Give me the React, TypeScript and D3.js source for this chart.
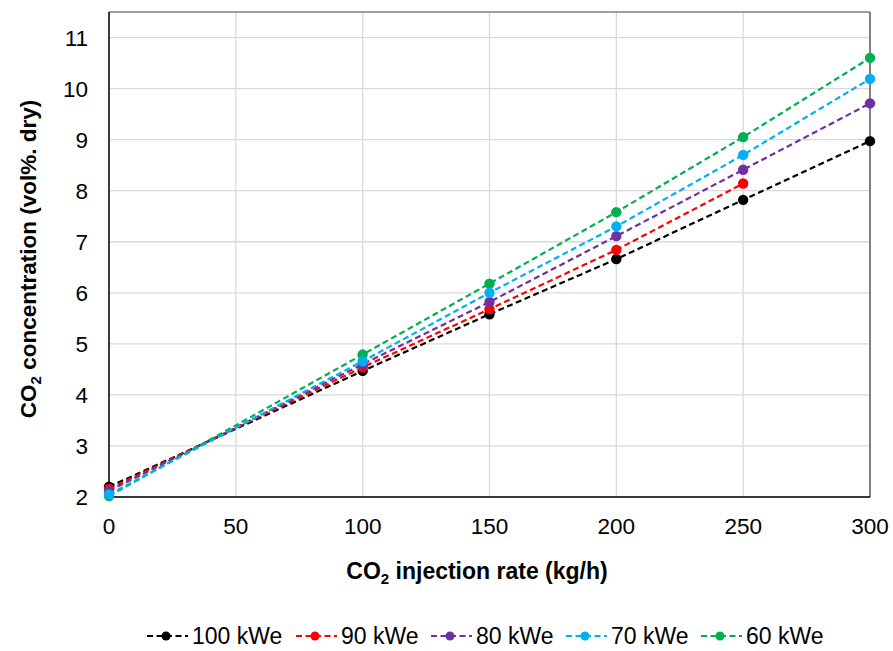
import * as d3 from "d3";

const rates = [0, 100, 150, 200, 250, 300];
const series100 = [2.2, 4.47, 5.58, 6.66, 7.82, 8.97];
const series90 = [2.16, 4.54, 5.68, 6.84, 8.14];
const series80 = [2.12, 4.6, 5.82, 7.11, 8.41, 9.71];
const series70 = [2.05, 4.66, 6.0, 7.3, 8.7, 10.19];
const series60 = [2.02, 4.79, 6.18, 7.58, 9.05, 10.6];
const xTicks = [0, 50, 100, 150, 200, 250, 300];
const yTicks = [2, 3, 4, 5, 6, 7, 8, 9, 10, 11];

const legendSeries = [
  { name: "100 kWe", color: "#000000", values: series100 },
  { name: "90 kWe", color: "#FF0000", values: series90 },
  { name: "80 kWe", color: "#7030A0", values: series80 },
  { name: "70 kWe", color: "#00B0F0", values: series70 },
  { name: "60 kWe", color: "#00B050", values: series60 },
];
// green sits under blue at the origin, so draw it before blue
const drawOrder = [0, 1, 2, 4, 3];

const W = 893;
const H = 651;
const margin = { top: 12, right: 23, bottom: 154, left: 109 };
const font = "'Liberation Sans', Arial, sans-serif";

export default function App() {
  const x = d3.scaleLinear().domain([0, 300]).range([margin.left, W - margin.right]);
  const y = d3.scaleLinear().domain([2, 11.5]).range([H - margin.bottom, margin.top]);

  const line = d3
    .line<number>()
    .x((_, i) => x(rates[i]))
    .y((d) => y(d));

  const legendX = [147, 296, 431, 566, 701];

  return (
    <svg width={W} height={H} style={{ position: "absolute", left: 0, top: 0, background: "#fff" }}>
      {/* gridlines */}
      {yTicks.map((t) => (
        <line key={"gy" + t} x1={x(0)} x2={x(300)} y1={y(t)} y2={y(t)} stroke="#D9D9D9" strokeWidth={1.3} />
      ))}
      {xTicks.map((t) => (
        <line key={"gx" + t} x1={x(t)} x2={x(t)} y1={y(2)} y2={y(11.5)} stroke="#D9D9D9" strokeWidth={1.3} />
      ))}
      {/* plot border */}
      <line x1={x(0)} x2={x(300)} y1={y(11.5)} y2={y(11.5)} stroke="#808080" strokeWidth={1.3} />
      <line x1={x(300)} x2={x(300)} y1={y(11.5)} y2={y(2)} stroke="#808080" strokeWidth={2} />
      <line x1={x(0)} x2={x(0)} y1={y(11.5)} y2={y(2)} stroke="#000" strokeWidth={1.5} />
      <line x1={x(0)} x2={x(300)} y1={y(2)} y2={y(2)} stroke="#000" strokeWidth={1.5} />

      {/* tick labels */}
      {yTicks.map((t) => (
        <text key={"ly" + t} x={88} y={y(t) + 8} textAnchor="end" fontFamily={font} fontSize={22.5} fill="#000">
          {t}
        </text>
      ))}
      {xTicks.map((t) => (
        <text key={"lx" + t} x={x(t)} y={534} textAnchor="middle" fontFamily={font} fontSize={22.5} fill="#000">
          {t}
        </text>
      ))}

      {/* series */}
      {drawOrder.map((k) => {
        const s = legendSeries[k];
        return (
          <g key={s.name}>
            <path d={line(s.values) || ""} fill="none" stroke={s.color} strokeWidth={2.2} strokeDasharray="6,3.5" />
            {s.values.map((v, i) => (
              <circle key={i} cx={x(rates[i])} cy={y(v)} r={5.2} fill={s.color} />
            ))}
          </g>
        );
      })}

      {/* axis titles */}
      <text x={477} y={579} textAnchor="middle" fontFamily={font} fontSize={23} fontWeight="bold" fill="#000">
        CO<tspan fontSize={15} dy={5}>2</tspan>
        <tspan dy={-5}> injection rate (kg/h)</tspan>
      </text>
      <text
        transform={`translate(36,${259}) rotate(-90)`}
        textAnchor="middle"
        fontFamily={font}
        fontSize={22.5}
        fontWeight="bold"
        fill="#000"
      >
        CO<tspan fontSize={15} dy={5}>2</tspan>
        <tspan dy={-5}> concentration (vol%. dry)</tspan>
      </text>

      {/* legend */}
      {legendSeries.map((s, i) => (
        <g key={"lg" + s.name} transform={`translate(${legendX[i]},636)`}>
          <line x1={0} x2={41} y1={0} y2={0} stroke={s.color} strokeWidth={2.2} strokeDasharray="6,3.5" />
          <circle cx={19} cy={0} r={4.5} fill={s.color} />
          <text x={45} y={8} fontFamily={font} fontSize={23} fill="#000">
            {s.name}
          </text>
        </g>
      ))}
    </svg>
  );
}
